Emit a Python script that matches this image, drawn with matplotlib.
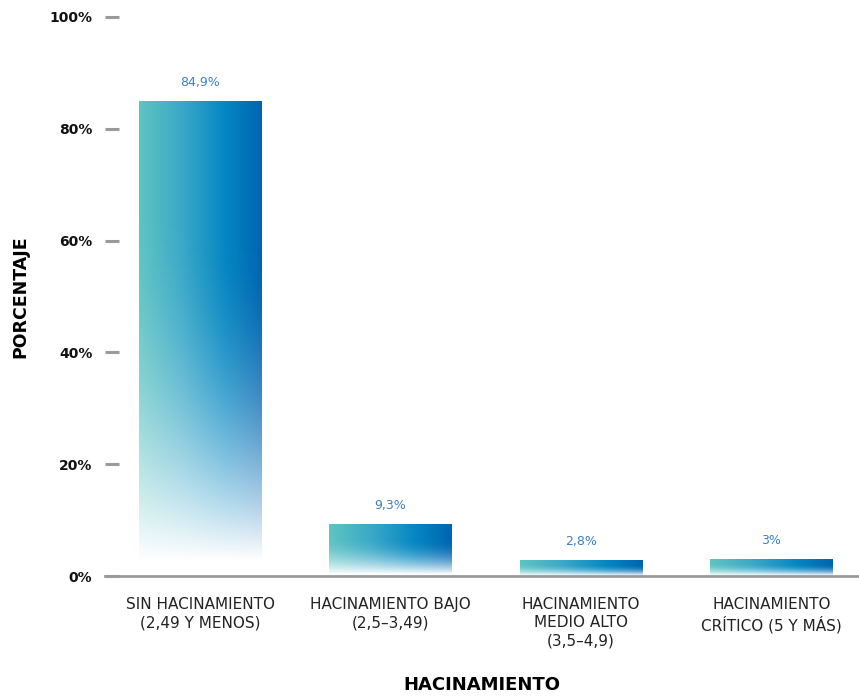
import matplotlib.pyplot as plt
import numpy as np
from matplotlib.colors import LinearSegmentedColormap

categorias = ["SIN HACINAMIENTO\n(2,49 Y MENOS)",
              "HACINAMIENTO BAJO\n(2,5\u20133,49)",
              "HACINAMIENTO\nMEDIO ALTO\n(3,5\u20134,9)",
              "HACINAMIENTO\nCR\u00cdTICO (5 Y M\u00c1S)"]
valores = [84.9, 9.3, 2.8, 3.0]
etiquetas = ["84,9%", "9,3%", "2,8%", "3%"]
yticks = [0, 20, 40, 60, 80, 100]

grad = LinearSegmentedColormap.from_list(
    "g", [(0, "#5ec4c2"), (0.35, "#3aa8c8"), (0.7, "#0587c2"), (1, "#0065b1")])

fig = plt.figure(figsize=(8.59, 6.96), dpi=100)
ax = fig.add_axes([0.1222, 0.1724, 0.8778, 0.8032])
ax.set_xlim(-0.5, 3.46)
ax.set_ylim(0, 100)

ancho = 0.645
n = 200
xs = np.linspace(0, 1, n)[None, :]
t = np.linspace(0, 1, n)[:, None]  # 0 bottom -> 1 top
for i, v in enumerate(valores):
    # horizontal colour gradient, fade to white toward the bottom (slightly diagonal)
    umbral = 0.72 - 0.08 * xs
    a = np.clip((t - 0.03) / umbral, 0, 1)
    alpha = 1 - (1 - a) ** 1.8
    img = np.ones((n, n, 4))
    img[:, :, :3] = grad(xs[0])[None, :, :3]
    img[:, :, 3] = alpha
    ax.imshow(img, extent=(i - ancho / 2, i + ancho / 2, 0, v), origin="lower",
              aspect="auto", interpolation="bilinear", zorder=2)
    ax.text(i, v + 2.2, etiquetas[i], ha="center", va="bottom", fontsize=9,
            color="#3a80c6")

ax.set_xticks(range(len(categorias)))
ax.set_xticklabels(categorias, fontsize=11, color="#222222", linespacing=1.28)
ax.tick_params(axis="x", length=0, pad=15)
ax.set_yticks(yticks)
ax.set_yticklabels([f"{y}%" for y in yticks], fontsize=10, fontweight="semibold", color="#111111")
ax.tick_params(axis="y", direction="in", length=10, width=2.2, color="#9a9a9a", pad=9)

for s in ["top", "right", "left"]:
    ax.spines[s].set_visible(False)
ax.spines["bottom"].set_color("#9a9a9a")
ax.spines["bottom"].set_linewidth(2)

ax.set_xlabel("HACINAMIENTO", fontsize=13, fontweight="bold", labelpad=20)
ax.set_ylabel("PORCENTAJE", fontsize=12.5, fontweight="bold")
ax.yaxis.set_label_coords(-0.1, 0.5)

fig.savefig("out.png", dpi=100)
